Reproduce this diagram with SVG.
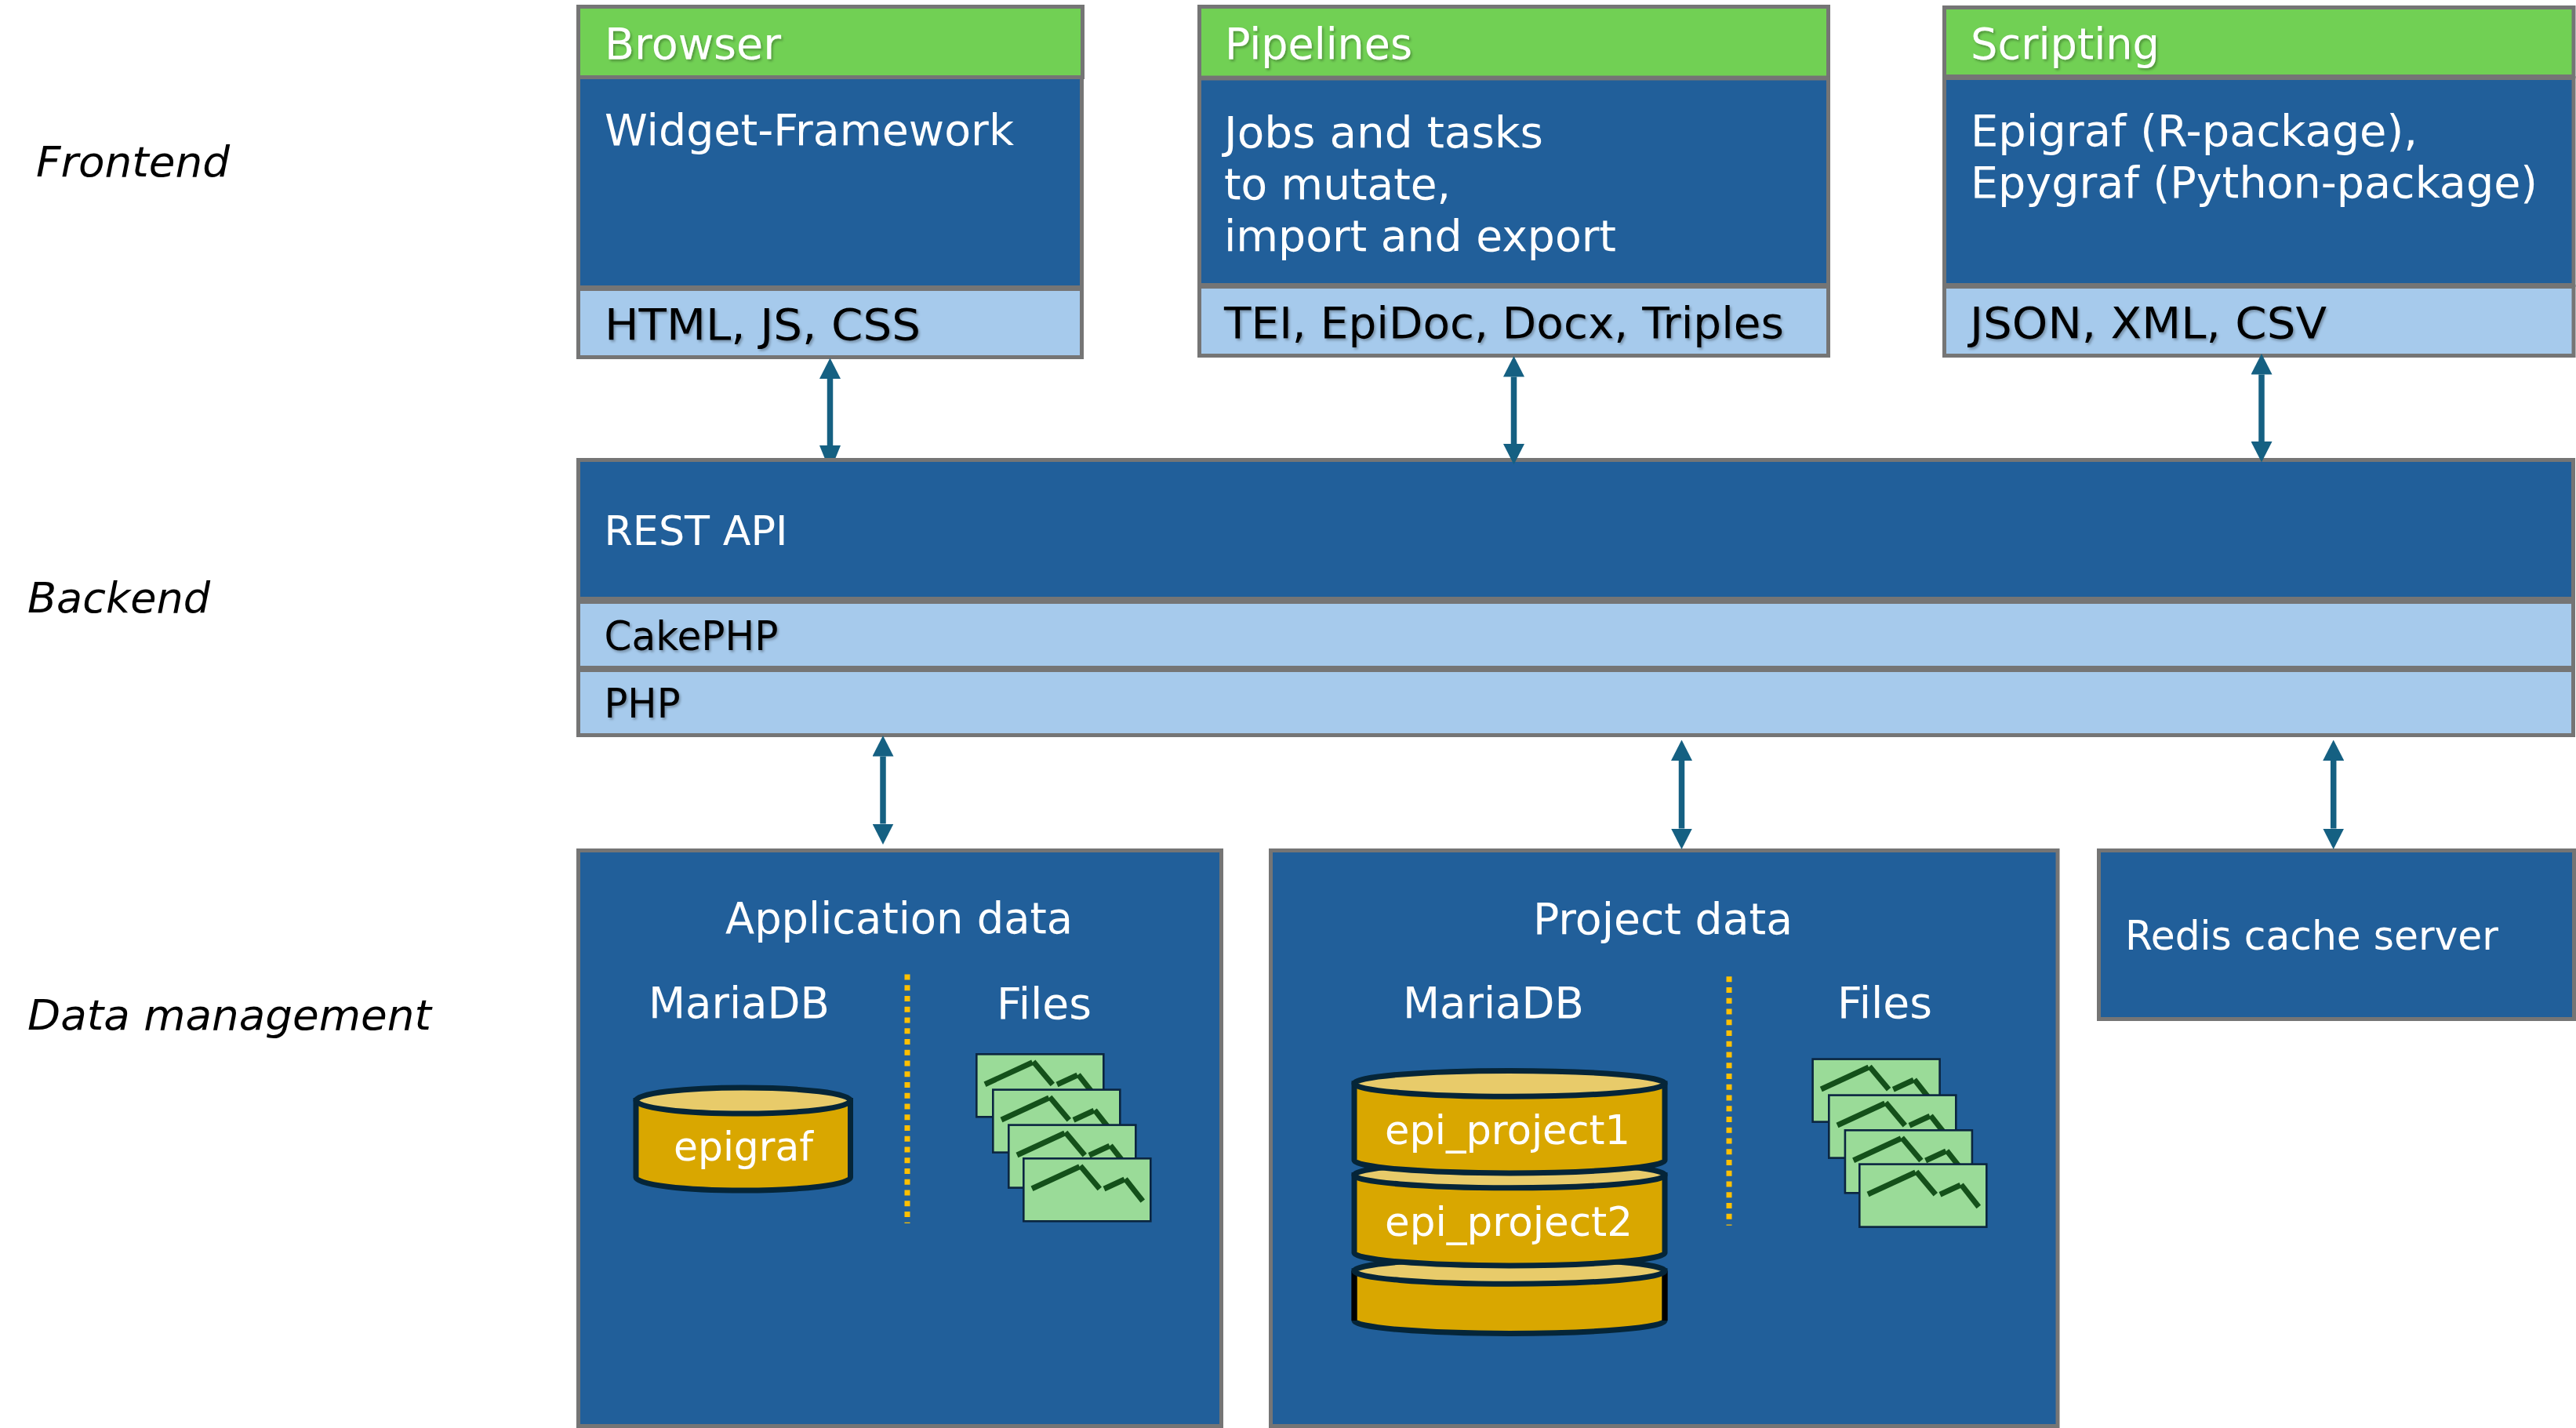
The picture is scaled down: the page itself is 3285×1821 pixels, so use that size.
<svg xmlns="http://www.w3.org/2000/svg" xmlns:xlink="http://www.w3.org/1999/xlink" width="3285" height="1821" viewBox="0 0 3285 1821">
<style>
text{font-family:"DejaVu Sans","Liberation Sans",sans-serif;}
.box{stroke:#757575;stroke-width:5;}
.green{fill:#71D054;}
.blue{fill:#215F9A;}
.light{fill:#A6CAEC;}
.w{fill:#FFFFFF;}
.k{fill:#000000;}
.s{filter:url(#shadow);}
.l{font-size:55px;}
.m{font-size:51px;}
.side{font-size:54px;font-style:italic;fill:#000000;}
.conn{stroke:#156082;stroke-width:7.5;fill:none;marker-start:url(#head);marker-end:url(#head);}
.dots{stroke:#FFC000;stroke-width:7;stroke-dasharray:7 6.75;fill:none;}
.cyl{fill:#D9A700;stroke:#052538;stroke-width:7;}
.top{fill:#E8CB6A;stroke:#052538;stroke-width:7;}
.blk{stroke:#000000;stroke-width:7;fill:none;}
.fr{fill:#9ADB98;stroke:#0B2540;stroke-width:2.6;}
.fl{fill:none;stroke:#14501A;stroke-width:7;}
</style>
<defs>
<filter id="shadow" x="-5%" y="-20%" width="110%" height="150%"><feDropShadow dx="2" dy="2.5" stdDeviation="1.8" flood-color="#000000" flood-opacity="0.28"/></filter>
<marker id="head" markerUnits="userSpaceOnUse" viewBox="0 0 26.5 27" markerWidth="26.5" markerHeight="27" refX="0" refY="13.5" orient="auto-start-reverse"><path d="M0,0L26.5,13.5L0,27Z" fill="#156082"/></marker>
<marker id="headcut" markerUnits="userSpaceOnUse" viewBox="0 0 26.5 27" markerWidth="26.5" markerHeight="27" refX="0" refY="13.5" orient="auto"><path d="M0,0L16,6.5L16,20.5L0,27Z" fill="#156082"/></marker>
<g id="file"><rect class="fr" x="1.3" y="1.3" width="162" height="80"/><path class="fl" d="M12,39.7L72.7,11.7"/><path class="fl" d="M73.7,10.7L98.3,40"/><path class="fl" d="M104,40L130,28"/><path class="fl" d="M131,27.3L153.3,55.7"/></g>
</defs>
<rect width="3285" height="1821" fill="#FFFFFF"/>

<g id="label-frontend"><text class="side" x="46" y="225" textLength="247" lengthAdjust="spacingAndGlyphs">Frontend</text></g>
<g id="label-backend"><text class="side" x="35" y="781" textLength="233" lengthAdjust="spacingAndGlyphs">Backend</text></g>
<g id="label-data"><text class="side" x="35" y="1313" textLength="515" lengthAdjust="spacingAndGlyphs">Data management</text></g>

<g id="browser">
<rect class="box green" x="737.5" y="8.5" width="643" height="90"/>
<rect class="box blue" x="737.5" y="98.5" width="642" height="268"/>
<rect class="box light" x="737.5" y="368.5" width="642" height="87"/>
<text class="l w s" x="771" y="74.5" textLength="225" lengthAdjust="spacingAndGlyphs">Browser</text>
<text class="l w" x="771" y="185" textLength="522" lengthAdjust="spacingAndGlyphs">Widget-Framework</text>
<text class="l k s" x="771" y="433" textLength="403" lengthAdjust="spacingAndGlyphs">HTML, JS, CSS</text>
</g>

<g id="pipelines">
<rect class="box green" x="1529.5" y="8.5" width="802" height="90.5"/>
<rect class="box blue" x="1529.5" y="100" width="802" height="263.5"/>
<rect class="box light" x="1529.5" y="365.5" width="802" height="88"/>
<text class="l w s" x="1562" y="74.5" textLength="239" lengthAdjust="spacingAndGlyphs">Pipelines</text>
<text class="l w" x="1561" y="187.5" textLength="407" lengthAdjust="spacingAndGlyphs">Jobs and tasks</text>
<text class="l w" x="1561" y="253.5" textLength="289" lengthAdjust="spacingAndGlyphs">to mutate,</text>
<text class="l w" x="1561" y="319.5" textLength="500" lengthAdjust="spacingAndGlyphs">import and export</text>
<text class="l k s" x="1561" y="430.5" textLength="714" lengthAdjust="spacingAndGlyphs">TEI, EpiDoc, Docx, Triples</text>
</g>

<g id="scripting">
<rect class="box green" x="2479.5" y="9.5" width="802.5" height="88"/>
<rect class="box blue" x="2479.5" y="99.5" width="802.5" height="264"/>
<rect class="box light" x="2479.5" y="365.5" width="802.5" height="88"/>
<text class="l w s" x="2513" y="74.5" textLength="241" lengthAdjust="spacingAndGlyphs">Scripting</text>
<text class="l w" x="2513" y="185.5" textLength="570" lengthAdjust="spacingAndGlyphs">Epigraf (R-package),</text>
<text class="l w" x="2513" y="251.5" textLength="723" lengthAdjust="spacingAndGlyphs">Epygraf (Python-package)</text>
<text class="l k s" x="2512" y="430.5" textLength="455" lengthAdjust="spacingAndGlyphs">JSON, XML, CSV</text>
</g>

<g id="backend">
<rect class="box blue" x="737.5" y="586.5" width="2544" height="177"/>
<rect class="box light" x="737.5" y="767.5" width="2544" height="84"/>
<rect class="box light" x="737.5" y="854.5" width="2544" height="83"/>
<text class="m w" x="770.5" y="695" textLength="234" lengthAdjust="spacingAndGlyphs">REST API</text>
<text class="m k s" x="770.5" y="828.5" textLength="222" lengthAdjust="spacingAndGlyphs">CakePHP</text>
<text class="m k s" x="770.5" y="914.5" textLength="97" lengthAdjust="spacingAndGlyphs">PHP</text>
</g>

<g id="application-data">
<rect class="box blue" x="737.5" y="1084.5" width="820" height="734"/>
<text class="l w" x="925" y="1190" textLength="443" lengthAdjust="spacingAndGlyphs">Application data</text>
<text class="l w" x="827" y="1298" textLength="231" lengthAdjust="spacingAndGlyphs">MariaDB</text>
<text class="l w" x="1271" y="1298.5" textLength="121" lengthAdjust="spacingAndGlyphs">Files</text>
<line class="dots" x1="1157" y1="1242.5" x2="1157" y2="1560"/>
<g id="db-epigraf">
<path class="cyl" d="M811,1403.5L811,1501.5A136.75,16.5 0 0 0 1084.5,1501.5L1084.5,1403.5Z"/>
<ellipse class="top" cx="947.75" cy="1403.5" rx="136.75" ry="16.5"/>
<text class="m w" x="859" y="1480" textLength="178" lengthAdjust="spacingAndGlyphs">epigraf</text>
</g>
<g id="files-application">
<use xlink:href="#file" href="#file" x="1244" y="1343"/>
<use xlink:href="#file" href="#file" x="1265" y="1388.3"/>
<use xlink:href="#file" href="#file" x="1285" y="1433.3"/>
<use xlink:href="#file" href="#file" x="1304" y="1476"/>
</g>
</g>

<g id="project-data">
<rect class="box blue" x="1620.5" y="1084.5" width="1003.5" height="734"/>
<text class="l w" x="1955" y="1190.5" textLength="331" lengthAdjust="spacingAndGlyphs">Project data</text>
<text class="l w" x="1789" y="1298" textLength="231" lengthAdjust="spacingAndGlyphs">MariaDB</text>
<text class="l w" x="2343" y="1298" textLength="121" lengthAdjust="spacingAndGlyphs">Files</text>
<line class="dots" x1="2205" y1="1245.3" x2="2205" y2="1562.7"/>
<g id="db-stack">
<path class="cyl" d="M1727,1620.8L1727,1684A198,16.4 0 0 0 2123,1684L2123,1620.8Z"/>
<path class="blk" d="M1727,1620.8L1727,1684M2123,1620.8L2123,1684"/>
<ellipse class="top" cx="1925" cy="1620.8" rx="198" ry="16.4"/>
<path class="cyl" d="M1727,1498.4L1727,1597.5A198,16.4 0 0 0 2123,1597.5L2123,1498.4Z"/>
<ellipse class="top" cx="1925" cy="1498.4" rx="198" ry="16.4"/>
<path class="cyl" d="M1727,1381.8L1727,1479.5A198,16.4 0 0 0 2123,1479.5L2123,1381.8Z"/>
<ellipse class="top" cx="1925" cy="1381.8" rx="198" ry="16.4"/>
<text class="m w" x="1766" y="1458.7" textLength="313" lengthAdjust="spacingAndGlyphs">epi_project1</text>
<text class="m w" x="1766" y="1576" textLength="316" lengthAdjust="spacingAndGlyphs">epi_project2</text>
</g>
<g id="files-project">
<use xlink:href="#file" href="#file" x="2310.3" y="1349.3"/>
<use xlink:href="#file" href="#file" x="2331" y="1395.3"/>
<use xlink:href="#file" href="#file" x="2351.6" y="1440"/>
<use xlink:href="#file" href="#file" x="2370" y="1483.3"/>
</g>
</g>

<g id="redis">
<rect class="box blue" x="2676.5" y="1084.5" width="606" height="215"/>
<text class="m w" x="2710" y="1211" textLength="476" lengthAdjust="spacingAndGlyphs">Redis cache server</text>
</g>

<g id="connectors">
<line class="conn" x1="1058.5" y1="483" x2="1058.5" y2="568" style="marker-end:url(#headcut)"/>
<line class="conn" x1="1930.5" y1="480.5" x2="1930.5" y2="566"/>
<line class="conn" x1="2884" y1="477.5" x2="2884" y2="563"/>
<line class="conn" x1="1126" y1="964.5" x2="1126" y2="1050.5"/>
<line class="conn" x1="2144.5" y1="970" x2="2144.5" y2="1056.5"/>
<line class="conn" x1="2975.7" y1="970" x2="2975.7" y2="1056.5"/>
</g>
</svg>
